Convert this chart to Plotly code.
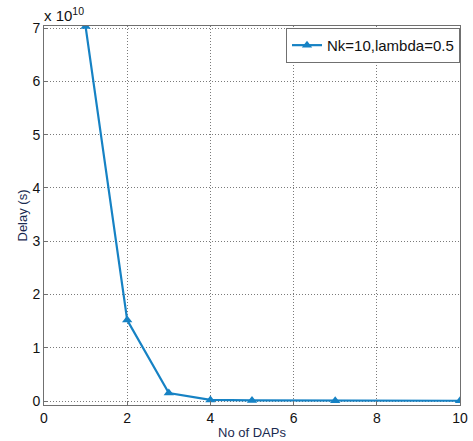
import plotly.graph_objects as go

daps = [1, 2, 3, 4, 5, 7, 10]
delay_e10 = [7.03, 1.52, 0.15, 0.02, 0.01, 0.005, 0.005]
series_name = "Nk=10,lambda=0.5"
x_ticks = [0, 2, 4, 6, 8, 10]
y_ticks = [0, 1, 2, 3, 4, 5, 6, 7]
x_title = "No of DAPs"
y_title = "Delay (s)"

FONT = "Liberation Sans, Arial"

fig = go.Figure()
fig.add_trace(go.Scatter(
    x=daps, y=delay_e10, mode="lines+markers", name=series_name,
    line=dict(color="#1682c4", width=2.2),
    marker=dict(symbol="triangle-up", size=9, color="#1682c4"),
))

axis_common = dict(
    showline=True, linecolor="#707070", linewidth=1, mirror=True,
    showgrid=True, gridcolor="#7a7a7a", griddash="1px,2px", gridwidth=1,
    zeroline=False, ticks="inside", ticklen=4, tickcolor="#707070",
    automargin=False,
    tickfont=dict(family=FONT, size=14, color="#111"),
)
fig.update_xaxes(range=[0, 10], tickvals=x_ticks, **axis_common)
fig.update_yaxes(range=[-0.075, 7.04], tickvals=y_ticks, **axis_common)

fig.add_annotation(xref="paper", yref="paper", x=0.0, y=1.0, xanchor="left", yanchor="bottom",
                   text="x 10<sup>10</sup>", showarrow=False, yshift=0, xshift=-2,
                   font=dict(family=FONT, size=15, color="#111"))
fig.add_annotation(xref="paper", yref="paper", x=0.5, y=0.0, xanchor="center", yanchor="middle",
                   text=x_title, showarrow=False, yshift=-27,
                   font=dict(family=FONT, size=13, color="#1a2a50"))
fig.add_annotation(xref="paper", yref="paper", x=0.0, y=0.5, xanchor="center", yanchor="middle",
                   text=y_title, showarrow=False, xshift=-22, textangle=-90,
                   font=dict(family=FONT, size=13, color="#1a2a50"))

fig.update_layout(
    width=473, height=441,
    margin=dict(l=44, r=13, t=26, b=36),
    paper_bgcolor="white", plot_bgcolor="white",
    showlegend=True,
    legend=dict(x=1.0, y=0.995, xanchor="right", yanchor="top",
                bgcolor="white", bordercolor="#707070", borderwidth=1,
                font=dict(family=FONT, size=15, color="#111"),
                itemwidth=30, tracegroupgap=0),
)
fig.write_html("out.html", config={"displayModeBar": False},
               post_script="document.body.style.margin='0';document.body.style.padding='0';")
